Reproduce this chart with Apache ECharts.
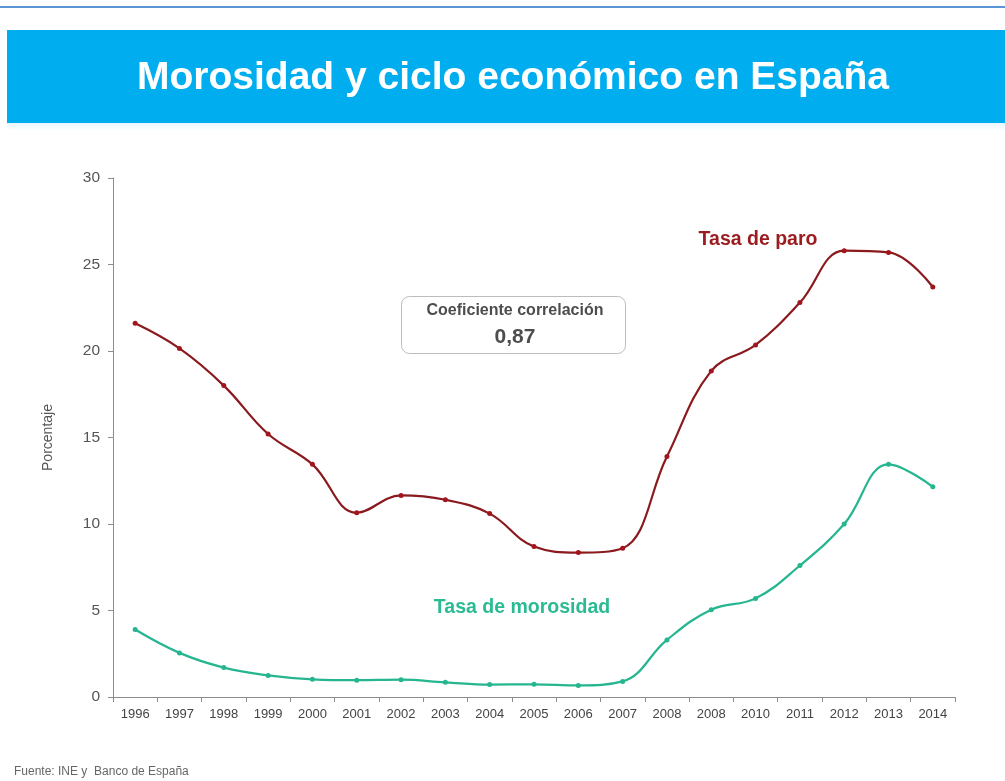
<!DOCTYPE html>
<html>
<head>
<meta charset="utf-8">
<script src="https://cdn.jsdelivr.net/npm/echarts@6/dist/echarts.min.js"></script>
<style>html,body{margin:0;padding:0;background:#fff}#c{width:1005px;height:781px}</style>
</head>
<body>
<div id="c"></div>
<script>
const years = ['1996','1997','1998','1999','2000','2001','2002','2003','2004','2005','2006','2007','2008','2008','2010','2011','2012','2013','2014'];
const tasaParo = [21.6,20.15,18.0,15.2,13.45,10.65,11.65,11.4,10.6,8.7,8.35,8.6,13.9,18.85,20.35,22.8,25.8,25.7,23.7];
const tasaMorosidad = [3.9,2.55,1.7,1.25,1.02,0.97,1.0,0.85,0.72,0.73,0.67,0.9,3.3,5.05,5.7,7.6,10.0,13.45,12.15];
const yTicks = {min:0, max:30, interval:5};

const chart = echarts.init(document.getElementById('c'), null, {renderer:'canvas'});
const FONT = 'Liberation Sans, Arial, sans-serif';
chart.setOption({
  backgroundColor:'#fff',
  animation:false,
  grid:{left:113, right:50, top:178, bottom:84},
  xAxis:{
    type:'category', data:years, boundaryGap:true,
    axisLine:{lineStyle:{color:'#8c8c8c', width:1}},
    axisTick:{show:true, alignWithLabel:false, lineStyle:{color:'#8c8c8c'}, length:5},
    axisLabel:{color:'#444', fontSize:13, fontFamily:FONT, margin:11, interval:0}
  },
  yAxis:{
    type:'value', min:yTicks.min, max:yTicks.max, interval:yTicks.interval,
    name:'Porcentaje', nameLocation:'middle', nameGap:58, nameRotate:90,
    nameTextStyle:{color:'#555', fontSize:14, fontFamily:FONT},
    axisLine:{show:true, lineStyle:{color:'#8c8c8c'}},
    axisTick:{show:true, inside:false, length:5, lineStyle:{color:'#8c8c8c'}},
    axisLabel:{color:'#555', fontSize:15.5, fontFamily:FONT, margin:13},
    splitLine:{show:false}
  },
  series:[
    {type:'line', name:'Tasa de paro', data:tasaParo, smooth:0.4,
     symbol:'circle', symbolSize:5,
     lineStyle:{color:'#8a1a1e', width:2.2}, itemStyle:{color:'#a3151d'}},
    {type:'line', name:'Tasa de morosidad', data:tasaMorosidad, smooth:0.4,
     symbol:'circle', symbolSize:5,
     lineStyle:{color:'#25b58f', width:2.2}, itemStyle:{color:'#25b58f'}}
  ],
  graphic:[
    {type:'rect', shape:{x:0, y:6, width:1005, height:2}, style:{fill:'#5b95d6'}},
    {type:'rect', shape:{x:7, y:30, width:998, height:93}, style:{fill:'#00aeef'}},
    {type:'rect', shape:{x:7, y:123, width:998, height:8},
     style:{fill:new echarts.graphic.LinearGradient(0,0,0,1,[{offset:0,color:'#e6f6fd'},{offset:1,color:'#ffffff'}])}},
    {type:'text', x:513, y:78,
     style:{text:'Morosidad y ciclo económico en España', fill:'#ffffff', font:'bold 39px '+FONT, align:'center', verticalAlign:'middle'}},
    {type:'rect', shape:{x:401.5, y:296.5, width:224, height:57, r:8},
     style:{fill:'#fff', stroke:'#bcbcbc', lineWidth:1}},
    {type:'text', x:515, y:311, style:{text:'Coeficiente correlación', fill:'#4d4d4d', font:'bold 16px '+FONT, align:'center', verticalAlign:'middle'}},
    {type:'text', x:515, y:337, style:{text:'0,87', fill:'#4d4d4d', font:'bold 21px '+FONT, align:'center', verticalAlign:'middle'}},
    {type:'text', x:758, y:240, style:{text:'Tasa de paro', fill:'#9b1b1f', font:'bold 19.5px '+FONT, align:'center', verticalAlign:'middle'}},
    {type:'text', x:522, y:608, style:{text:'Tasa de morosidad', fill:'#2bbb93', font:'bold 19.5px '+FONT, align:'center', verticalAlign:'middle'}},
    {type:'text', x:14, y:772, style:{text:'Fuente: INE y  Banco de España', fill:'#666', font:'12px '+FONT, verticalAlign:'middle'}}
  ]
});
</script>
</body>
</html>
